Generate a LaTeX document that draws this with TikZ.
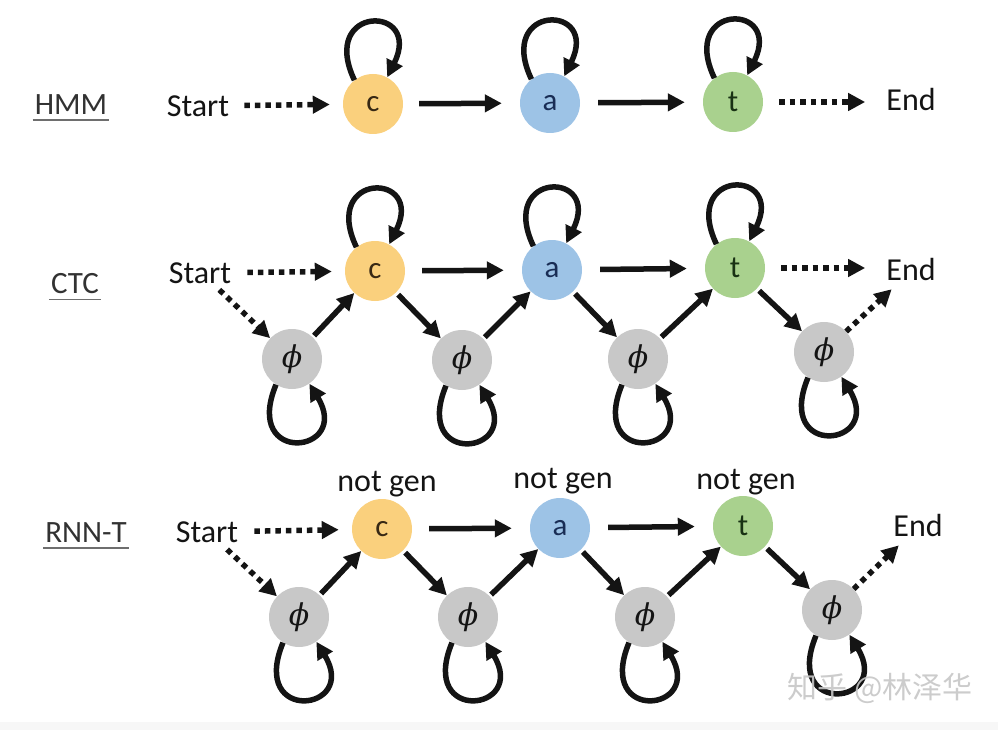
\documentclass[tikz,border=0pt]{standalone}
\usepackage{fontspec}
\setmainfont{Carlito}
\newfontfamily\cjkfont{Noto Sans CJK SC}
\newfontfamily\phifont{DejaVu Serif}
\usetikzlibrary{arrows.meta}
\definecolor{corange}{RGB}{250,208,125}
\definecolor{cblue}{RGB}{157,195,230}
\definecolor{cgreen}{RGB}{169,209,142}
\definecolor{cgray}{RGB}{200,200,200}
\definecolor{ink}{RGB}{20,20,20}
\definecolor{ulcol}{RGB}{110,110,110}
\newcommand{\myphi}{{\phifont\itshape ϕ}}
\tikzset{
  st/.style={circle,minimum size=60pt,inner sep=0pt,font=\fontsize{31}{32}\selectfont,text=ink},
  sc/.style={st,fill=corange,text={rgb,255:red,55;green,40;blue,20}},
  sa/.style={st,fill=cblue,text={rgb,255:red,25;green,45;blue,85}},
  stt/.style={st,fill=cgreen,text={rgb,255:red,25;green,50;blue,20}},
  sp/.style={st,fill=cgray,font=\fontsize{30}{32}\selectfont},
  lbl/.style={inner sep=2pt,font=\fontsize{32}{36}\selectfont,text=ink},
  rowlbl/.style={inner sep=2pt,font=\fontsize{31}{36}\selectfont,text={rgb,255:red,50;green,50;blue,50}},
  arr/.style={line width=5.5pt,-{Triangle[length=17pt,width=17pt]},ink},
  dotarr/.style={line width=5.5pt,dash pattern=on 5.5pt off 5pt,-{Triangle[length=17pt,width=17pt]},ink},
  ulin/.style={line width=1.6pt,ulcol},
}
\begin{document}
\begin{tikzpicture}[x=1pt,y=-1pt]
\useasboundingbox (0,0) rectangle (998,730);
\fill[gray!6] (0,722) rectangle (998,730);
% ---------------- HMM ----------------
\node[rowlbl] (hlab) at (71,105) {HMM};
\draw[ulin] ([yshift=-3pt]hlab.south west) -- ([yshift=-3pt]hlab.south east);
\node[lbl] (hStart) at (198,106) {Start};
\node[lbl] (hEnd) at (911,100) {End};
\node[sc] (hc) at (373,104) {c};
\node[sa] (ha) at (550,103) {a};
\node[stt] (ht) at (733,102) {t};
\draw[dotarr,shorten <=13pt,shorten >=13pt] (hStart) -- (hc);
\draw[arr,shorten <=16pt,shorten >=18pt] (hc) -- (ha);
\draw[arr,shorten <=18pt,shorten >=18pt] (ha) -- (ht);
\draw[dotarr,shorten <=16pt,shorten >=19pt] (ht) -- (ht -| hEnd.west);
\foreach \n in {hc,ha,ht}{
  \draw[arr] (\n.128) .. controls +(-36,-76) and +(36,-73) .. (\n.62);
}
% ---------------- CTC ----------------
\node[rowlbl] (clab) at (75,284) {CTC};
\draw[ulin] ([yshift=-3pt]clab.south west) -- ([yshift=-3pt]clab.south east);
\node[lbl] (cStart) at (200,273) {Start};
\node[lbl] (cEnd) at (911,269) {End};
\node[sc] (cc) at (375,271) {c};
\node[sa] (ca) at (552,270) {a};
\node[stt] (ct) at (735,268) {t};
\node[sp] (cp1) at (292,359) {\myphi};
\node[sp] (cp2) at (462,360) {\myphi};
\node[sp] (cp3) at (638,359) {\myphi};
\node[sp] (cp4) at (824,352) {\myphi};
\draw[dotarr,shorten <=14pt,shorten >=13pt] (cStart) -- (cc);
\draw[arr,shorten <=17pt,shorten >=18pt] (cc) -- (ca);
\draw[arr,shorten <=18pt,shorten >=18pt] (ca) -- (ct);
\draw[dotarr,shorten <=16pt,shorten >=19pt] (ct) -- (ct -| cEnd.west);
\draw[dotarr,shorten <=6pt] ([xshift=15pt]cStart.south) -- (cp1);
\draw[arr,shorten <=2pt] (cp1) -- (cc);
\draw[arr,shorten <=3pt] (cc) -- (cp2);
\draw[arr,shorten <=2pt] (cp2) -- (ca);
\draw[arr,shorten <=3pt] (ca) -- (cp3);
\draw[arr,shorten <=2pt] (cp3) -- (ct);
\draw[arr,shorten <=3pt] (ct) -- (cp4);
\draw[dotarr,shorten >=10pt] (cp4) -- ([xshift=-12pt]cEnd.south);
\foreach \n in {cc,ca,ct}{
  \draw[arr] (\n.128) .. controls +(-36,-76) and +(36,-73) .. (\n.62);
}
\foreach \n in {cp1,cp2,cp3,cp4}{
  \draw[arr] (\n.238) .. controls +(-34,82) and +(43,70) .. (\n.-55);
}
% ---------------- RNN-T ----------------
\node[rowlbl] (rlab) at (86,533) {RNN-T};
\draw[ulin] ([yshift=-3pt]rlab.south west) -- ([yshift=-3pt]rlab.south east);
\node[lbl] (rStart) at (207,532) {Start};
\node[lbl] (rEnd) at (918,525) {End};
\node[sc] (rc) at (382,529) {c};
\node[sa] (ra) at (560,528) {a};
\node[stt] (rt) at (743,526) {t};
\node[lbl] (ng1) at (387,484) {not gen};
\node[lbl] (ng2) at (563,481) {not gen};
\node[lbl] (ng3) at (746,482) {not gen};
\node[sp] (rp1) at (299,617) {\myphi};
\node[sp] (rp2) at (468,617) {\myphi};
\node[sp] (rp3) at (645,617) {\myphi};
\node[sp] (rp4) at (832,610) {\myphi};
\draw[dotarr,shorten <=14pt,shorten >=13pt] (rStart) -- (rc);
\draw[arr,shorten <=17pt,shorten >=18pt] (rc) -- (ra);
\draw[arr,shorten <=18pt,shorten >=18pt] (ra) -- (rt);
\draw[dotarr,shorten <=7pt] ([xshift=15pt]rStart.south) -- (rp1);
\draw[arr,shorten <=2pt] (rp1) -- (rc);
\draw[arr,shorten <=3pt] (rc) -- (rp2);
\draw[arr,shorten <=2pt] (rp2) -- (ra);
\draw[arr,shorten <=3pt] (ra) -- (rp3);
\draw[arr,shorten <=2pt] (rp3) -- (rt);
\draw[arr,shorten <=3pt] (rt) -- (rp4);
\draw[dotarr,shorten >=10pt] (rp4) -- ([xshift=-12pt]rEnd.south);
\foreach \n in {rp1,rp2,rp3,rp4}{
  \draw[arr] (\n.238) .. controls +(-34,82) and +(43,70) .. (\n.-55);
}
% watermark
\node[inner sep=0pt,font=\cjkfont\fontsize{30}{34}\selectfont,text=gray!45,opacity=0.9] (wm) at (880,688) {知乎 @林泽华};
\end{tikzpicture}
\end{document}
